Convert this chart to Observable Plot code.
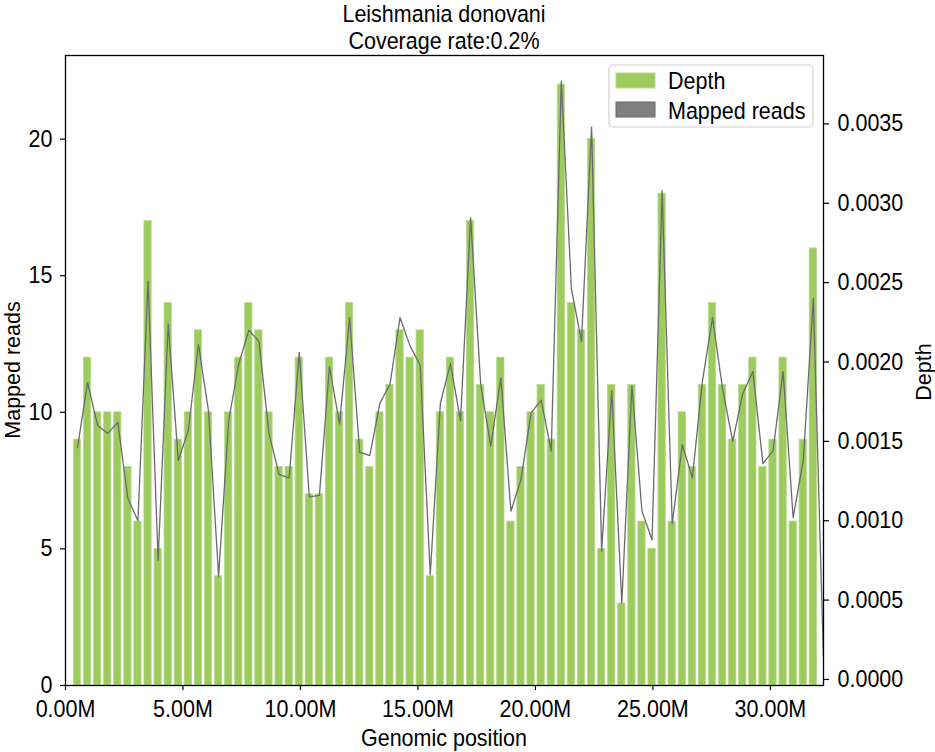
<!DOCTYPE html>
<html><head><meta charset="utf-8">
<script src="https://cdn.jsdelivr.net/npm/d3@7"></script>
<script src="https://cdn.jsdelivr.net/npm/@observablehq/plot@0.6"></script>
<style>
body{margin:0;background:#fff;}
svg text{font-family:"Liberation Sans",Arial,sans-serif;}
</style>
</head><body><div id="chart"></div>
<script>
// ---- data ----
const title = "Leishmania donovani";
const subtitle = "Coverage rate:0.2%";
const xLabel = "Genomic position";
const yLabel = "Mapped reads";
const y2Label = "Depth";
const legendLabels = ["Depth", "Mapped reads"];

// genomic bins (in Mb)
const firstBinCenter = 0.51;
const binStep = 0.429;
const barWidth = 0.31;

// mapped reads per bin (bars)
const mappedReads = [9,12,10,10,10,8,6,17,5,14,9,10,13,10,4,10,12,14,13,10,8,8,12,7,7,
  12,10,14,9,8,10,11,13,12,13,4,10,12,10,17,11,10,12,6,8,10,11,9,
  22,14,13,20,5,11,3,11,6,5,18,6,10,8,11,14,11,9,11,12,8,9,12,6,9,16];

// depth per bin (line, right axis)
const depth = [0.00146,0.00187,0.00160,0.00155,0.00162,0.00114,0.00100,0.00251,0.00075,0.00224,
  0.00138,0.00157,0.00211,0.00169,0.00065,0.00163,0.00199,0.00220,0.00213,0.00155,
  0.00129,0.00127,0.00206,0.00115,0.00116,
  0.00197,0.00161,0.00228,0.00143,0.00141,0.00174,0.00186,0.00228,0.00210,0.00198,
  0.00066,0.00174,0.00199,0.00163,0.00291,0.00186,0.00147,0.00190,0.00106,0.00126,
  0.00168,0.00176,0.00144,
  0.00377,0.00246,0.00213,0.00348,0.00081,0.00182,0.00048,0.00185,0.00106,0.00088,
  0.00308,0.00098,0.00148,0.00127,0.00188,0.00228,0.00183,0.00150,0.00180,0.00194,
  0.00136,0.00144,0.00194,0.00102,0.00138,0.00240,0.00014];

const xTicks = [0,5,10,15,20,25,30];
const yTicks = [0,5,10,15,20];
const depthTicks = [0,0.0005,0.0010,0.0015,0.0020,0.0025,0.0030,0.0035];

// ---- scales / layout ----
const W = 935, H = 752;
const mL = 65, mR = 112, mT = 55, mB = 67;
const xMax = 32.26;
const yMax = 23.06;
const depthDomain = [-0.000038, 0.003931];
const toReads = d => (d - depthDomain[0]) / (depthDomain[1] - depthDomain[0]) * yMax;
const fromReads = r => r / yMax * (depthDomain[1] - depthDomain[0]) + depthDomain[0];

const barColor = "#9dcb5e";
const lineColor = "#6a6a70";
const FS = 21.5;

const bars = mappedReads.map((v, i) => ({x: firstBinCenter + i * binStep, v}));
const pts = depth.map((d, i) => ({x: firstBinCenter + i * binStep, y: toReads(d)}));

const chart = Plot.plot({
  width: W, height: H,
  marginLeft: mL, marginRight: mR, marginTop: mT, marginBottom: mB,
  style: {fontFamily: '"Liberation Sans",Arial,sans-serif', fontSize: FS + "px", background: "#fff", color: "#000", overflow: "visible"},
  x: {domain: [0, xMax]},
  y: {domain: [0, yMax]},
  marks: [
    Plot.rectY(bars, {x1: d => d.x - barWidth / 2, x2: d => d.x + barWidth / 2, y: "v",
      fill: barColor, stroke: "#b6da8e", strokeWidth: 0.8}),
    Plot.line(pts, {x: "x", y: "y", stroke: lineColor, strokeWidth: 1.3, clip: true}),
    Plot.frame({stroke: "#000", strokeWidth: 1.3}),
    Plot.axisX({ticks: xTicks, tickFormat: d => d.toFixed(2) + "M", tickSize: 5, tickPadding: 10,
      label: null, fontSize: FS, stroke: "#000", strokeWidth: 1.2}),
    Plot.axisY({ticks: yTicks, tickSize: 5, tickPadding: 8, label: null, fontSize: FS, strokeWidth: 1.2}),
    Plot.axisY(depthTicks.map(toReads), {anchor: "right", tickSize: 5, tickPadding: 9, label: null,
      fontSize: FS, strokeWidth: 1.2,
      tickFormat: r => { const v = Math.round(fromReads(r) * 1e4) / 1e4; return (Math.abs(v) < 1e-9 ? 0 : v).toFixed(4); }})
  ]
});

document.getElementById("chart").appendChild(chart);
const svg = d3.select(chart.tagName.toLowerCase() === "svg" ? chart : chart.querySelector("svg"));

// stretch tick label text vertically (reference glyphs are tall/narrow)
const SY = 1.1;
svg.selectAll("text").each(function() {
  const t = d3.select(this);
  const tr = t.attr("transform");
  if (tr) t.attr("transform", tr + ` scale(1,${SY})`);
  else {
    const x = +(t.attr("x") || 0), y = +(t.attr("y") || 0);
    t.attr("x", null).attr("y", null).attr("transform", `translate(${x},${y}) scale(1,${SY})`);
  }
});

const cx = (mL + (W - mR)) / 2;
function addText(txt, x, y, rot, anchor = "middle", fs = FS, sy = SY) {
  svg.append("text")
    .attr("transform", `translate(${x},${y})` + (rot ? ` rotate(${rot})` : "") + (rot ? ` scale(${sy},1)` : ` scale(1,${sy})`))
    .attr("text-anchor", anchor)
    .attr("dy", "0.36em")
    .attr("font-size", fs)
    .attr("fill", "#000")
    .text(txt);
}
addText(title, cx, 13);
addText(subtitle, cx, 40);
addText(xLabel, cx, 737);
addText(yLabel, 12, 370, -90, "middle", FS, 1.0);
addText(y2Label, 923, 372, -90, "middle", FS, 1.0);

// legend
const lg = svg.append("g");
lg.append("rect").attr("x", 609).attr("y", 65).attr("width", 204).attr("height", 62)
  .attr("rx", 4).attr("fill", "#fff").attr("fill-opacity", 0.85).attr("stroke", "#d0d0d0").attr("stroke-width", 1.2);
lg.append("rect").attr("x", 616).attr("y", 73).attr("width", 39).attr("height", 15)
  .attr("fill", barColor).attr("stroke", "#b6da8e");
lg.append("rect").attr("x", 616).attr("y", 102).attr("width", 39).attr("height", 15)
  .attr("fill", "#808080").attr("stroke", "#666");
[[legendLabels[0], 80], [legendLabels[1], 110]].forEach(([t, y]) => addText(t, 668, y, 0, "start"));
</script>
</body></html>
